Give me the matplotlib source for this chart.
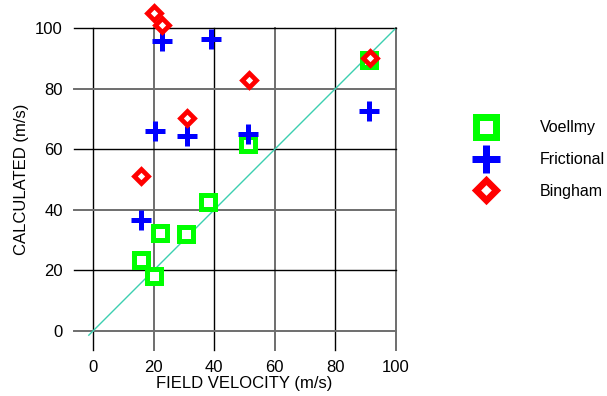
import matplotlib.pyplot as plt
from matplotlib.lines import Line2D

plt.rcParams['font.family'] = ['Liberation Sans', 'DejaVu Sans']
plt.rcParams['font.size'] = 12

# field vs calculated velocities (m/s)
voellmy_field = [91.2, 51.3, 38.0, 21.9, 30.8, 15.9, 20.0]
voellmy_calc = [89.6, 61.8, 42.4, 32.3, 31.8, 23.3, 18.2]

frictional_field = [22.6, 38.9, 91.2, 20.4, 31.1, 51.0, 15.8]
frictional_calc = [95.7, 96.5, 72.5, 66.1, 64.5, 65.0, 36.7]

bingham_field = [20.1, 22.7, 51.6, 91.4, 31.1, 15.9]
bingham_calc = [105.1, 101.2, 82.9, 90.3, 70.3, 51.0]

one_to_one = [-1.5, 99.7]
ticks = [0, 20, 40, 60, 80, 100]

fig = plt.figure(figsize=(6.07, 3.96), dpi=100)
ax = fig.add_axes([0.1219, 0.1162, 0.530, 0.8123])
ax.set_xlim(-6.4, 100)
ax.set_ylim(-6.4, 100)

for s in ax.spines.values():
    s.set_visible(False)
ax.set_xticks(ticks)
ax.set_yticks(ticks)
ax.tick_params(length=0)
ax.tick_params(axis='x', pad=7)
ax.tick_params(axis='y', pad=8)
ax.grid(True, color='black', linewidth=1.0)
ax.set_axisbelow(True)
for i, gl in enumerate(ax.xaxis.get_gridlines()):
    gl.set_clip_on(False)
    if i % 2:
        gl.set_color('#6e6e6e')
        gl.set_linewidth(1.4)
for i, gl in enumerate(ax.yaxis.get_gridlines()):
    gl.set_clip_on(False)
    if i % 2 == 0:
        gl.set_color('#6e6e6e')
        gl.set_linewidth(1.4)

ax.plot(one_to_one, one_to_one, color='#3ccfb0', linewidth=1.0, zorder=2)

styles = {
    'Voellmy': dict(marker='s', color='#00ff00', ms=10, mew=3.6, mfc='white'),
    'Frictional': dict(marker='+', color='#0000ff', ms=14.4, mew=3.6),
    'Bingham': dict(marker='D', color='#ff0000', ms=7, mew=3.4, mfc='white'),
}

ax.plot(voellmy_field, voellmy_calc, linestyle='none', clip_on=False, zorder=3,
        **styles['Voellmy'])
ax.plot(frictional_field, frictional_calc, linestyle='none', clip_on=False, zorder=4,
        **styles['Frictional'])
ax.plot(bingham_field, bingham_calc, linestyle='none', clip_on=False, zorder=5,
        **styles['Bingham'])

ax.set_xlabel('FIELD VELOCITY (m/s)')
ax.set_ylabel('CALCULATED (m/s)')
ax.xaxis.set_label_coords(0.530, -0.082)
ax.yaxis.set_label_coords(-0.14, 0.530)

# legend uses bigger markers than the plot
handles = []
for name, st in styles.items():
    st = dict(st)
    st['ms'] = st['ms'] * 1.4
    st['mew'] = st['mew'] * 1.4
    handles.append(Line2D([], [], linestyle='none', **st))

fig.legend(handles, list(styles.keys()), loc='upper left',
           bbox_to_anchor=(0.7615, 0.7167), frameon=False, borderpad=0,
           fontsize=11.5, handlelength=2, handletextpad=2.37, labelspacing=1.06)

fig.savefig('out.png', dpi=100)
